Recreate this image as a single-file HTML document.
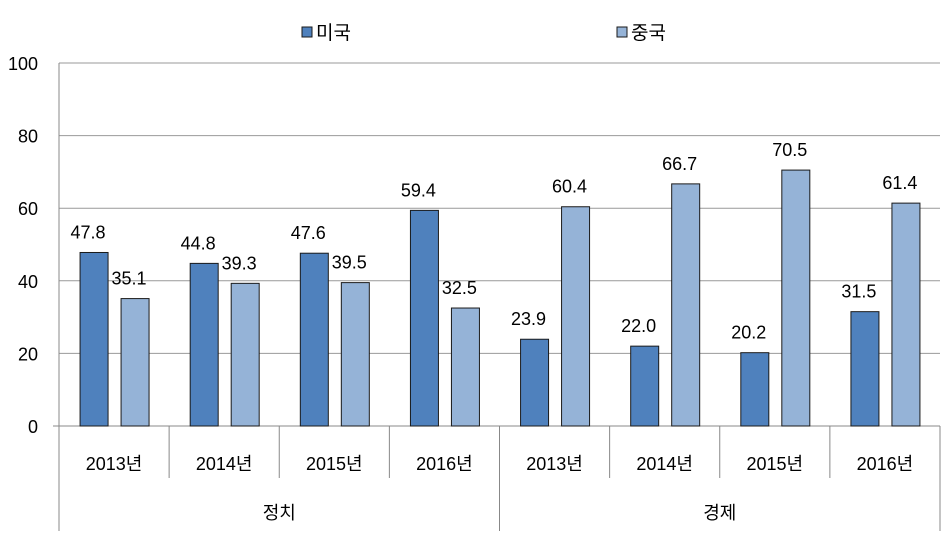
<!DOCTYPE html>
<html><head><meta charset="utf-8"><style>
body{margin:0;background:#fff}
svg text{font-family:"Liberation Sans","Noto Sans CJK KR",sans-serif;fill:#000}
</style></head><body>
<svg id="c" width="945" height="531" xmlns="http://www.w3.org/2000/svg"></svg>
<script>
const groups=["정치","경제"];
const years=["2013년","2014년","2015년","2016년","2013년","2014년","2015년","2016년"];
const usVals=[47.8,44.8,47.6,59.4,23.9,22.0,20.2,31.5];
const cnVals=[35.1,39.3,39.5,32.5,60.4,66.7,70.5,61.4];
const yTicks=[0,20,40,60,80,100];
const seriesNames=["미국","중국"];
const svg=document.getElementById('c');
const NS="http://www.w3.org/2000/svg";
const X0=59,X1=940,Y0=426,Y1=63;
const gw=(X1-X0)/years.length;
const y=v=>Y0-(v/100)*(Y0-Y1);
function mk(t,a,txt){const e=document.createElementNS(NS,t);for(const k in a)e.setAttribute(k,a[k]);if(txt!=null)e.textContent=txt;svg.appendChild(e);return e;}
yTicks.forEach(t=>{
 const l=mk('line',{x1:X0,x2:X1,y1:y(t),y2:y(t),stroke:t===0?'#888':'#999','stroke-width':1});
 
 
 const tx=mk('text',{x:38,y:y(t)+7,'text-anchor':'end','font-size':18},t);
 
 
});
mk('line',{x1:X0,x2:X0,y1:Y1,y2:531,stroke:'#888'});
mk('line',{x1:X0-6,x2:X0,y1:Y0,y2:Y0,stroke:'#888'});
const bw=28;
years.forEach((yr,i)=>{
 const cx=X0+gw*i+gw/2;
 [[usVals[i],'#4f81bd',-20],[cnVals[i],'#95b3d7',21]].forEach(([v,c,off],s)=>{
  const r=mk('rect',{x:cx+off-bw/2,y:y(v),width:bw,height:Y0-y(v),fill:c,stroke:'#1a1a1a','stroke-width':1});
  
  
  const t=mk('text',{x:cx+off-6,y:y(v)-14,'text-anchor':'middle','font-size':18},v.toFixed(1));
  
  
 });
 const yl=mk('text',{x:cx,y:470,'text-anchor':'middle','font-size':18},yr);
 
 
 const xs=X0+gw*(i+1);
 mk('line',{x1:xs,x2:xs,y1:Y0,y2:(i===3||i===7)?531:478,stroke:'#888'});
});
groups.forEach((g,j)=>{
 const t=mk('text',{x:X0+gw*4*j+gw*2,y:519,'text-anchor':'middle','font-size':18},g);
 
 
});
[[302,'#4f81bd'],[617,'#95b3d7']].forEach(([lx,c],k)=>{
 const r=mk('rect',{x:lx,y:27,width:10,height:10,fill:c,stroke:'#1a1a1a'});
 
 
 const t=mk('text',{x:lx+14,y:39,'font-size':19},seriesNames[k]);
 
 
});
</script>
</body></html>
